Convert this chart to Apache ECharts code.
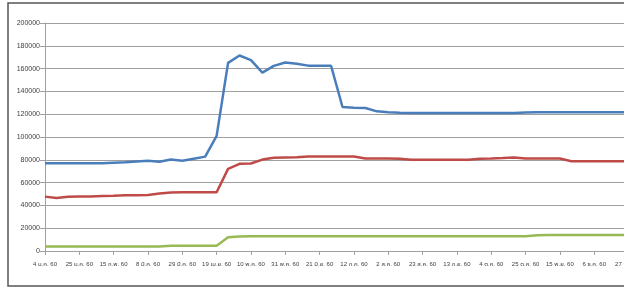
<!DOCTYPE html>
<html>
<head>
<meta charset="utf-8">
<script src="https://cdn.jsdelivr.net/npm/echarts@6/dist/echarts.min.js"></script>
<style>
  html, body { margin: 0; padding: 0; background: #fff; }
  #chart { width: 624px; height: 289px; }
</style>
</head>
<body>
<div id="chart"></div>
<script>
// weekly dates (Thai Buddhist year 2560)
const weeks = [
  '4 ม.ค. 60', '11 ม.ค. 60', '18 ม.ค. 60', '25 ม.ค. 60',
  '1 ก.พ. 60', '8 ก.พ. 60', '15 ก.พ. 60', '22 ก.พ. 60',
  '1 มี.ค. 60', '8 มี.ค. 60', '15 มี.ค. 60', '22 มี.ค. 60', '29 มี.ค. 60',
  '5 เม.ย. 60', '12 เม.ย. 60', '19 เม.ย. 60', '26 เม.ย. 60',
  '3 พ.ค. 60', '10 พ.ค. 60', '17 พ.ค. 60', '24 พ.ค. 60', '31 พ.ค. 60',
  '7 มิ.ย. 60', '14 มิ.ย. 60', '21 มิ.ย. 60', '28 มิ.ย. 60',
  '5 ก.ค. 60', '12 ก.ค. 60', '19 ก.ค. 60', '26 ก.ค. 60',
  '2 ส.ค. 60', '9 ส.ค. 60', '16 ส.ค. 60', '23 ส.ค. 60', '30 ส.ค. 60',
  '6 ก.ย. 60', '13 ก.ย. 60', '20 ก.ย. 60', '27 ก.ย. 60',
  '4 ต.ค. 60', '11 ต.ค. 60', '18 ต.ค. 60', '25 ต.ค. 60',
  '1 พ.ย. 60', '8 พ.ย. 60', '15 พ.ย. 60', '22 พ.ย. 60', '29 พ.ย. 60',
  '6 ธ.ค. 60', '13 ธ.ค. 60', '20 ธ.ค. 60', '27 ธ.ค. 60',
  '3 ม.ค. 61'
];

const blueValues = [
  77000, 77000, 77000, 77000, 77000, 77000, 77500, 77800, 78500, 79200,
  78300, 80200, 79200, 81000, 82800, 101000, 165000, 171500, 167500, 156500,
  162400, 165300, 164300, 162600, 162500, 162500, 126300, 125700, 125400, 122500,
  121700, 121200, 121000, 121000, 121000, 121000, 121000, 121000, 121000, 121000,
  121000, 121000, 121500, 121800, 121800, 121800, 121800, 121800, 121800, 121800,
  121800, 121800, 121800
];

const redValues = [
  47700, 46500, 47500, 47800, 47800, 48200, 48500, 49000, 49000, 49200,
  50500, 51300, 51500, 51500, 51500, 51500, 72000, 76500, 76800, 80200,
  81800, 82000, 82200, 82800, 83000, 83000, 83000, 82800, 81200, 81200,
  81200, 81000, 80000, 80000, 80000, 80000, 80000, 80000, 81000, 81200,
  81500, 82000, 81200, 81200, 81200, 81200, 78800, 78800, 78800, 78800,
  78800, 78800, 78800
];

const greenValues = [
  3900, 3900, 3900, 3900, 3900, 3900, 3900, 3900, 3900, 3900,
  3900, 4500, 4500, 4500, 4500, 4500, 12000, 12800, 13000, 13000,
  13000, 13000, 13000, 13000, 13000, 13000, 13000, 13000, 13000, 13000,
  13000, 13000, 13000, 13000, 13000, 13000, 13000, 13000, 13000, 13000,
  13000, 13000, 13000, 13900, 14000, 14000, 14000, 14000, 14000, 14000,
  14000, 14000, 14000
];

const font = "'Liberation Sans Narrow', 'Liberation Sans', 'Noto Sans Thai', 'Noto Sans', sans-serif";
const chart = echarts.init(document.getElementById('chart'), null, { renderer: 'canvas' });

function line(values, color) {
  return {
    type: 'line',
    data: values,
    showSymbol: false,
    smooth: false,
    lineStyle: { color: color, width: 2.5 },
    itemStyle: { color: color },
    animation: false
  };
}

const option = {
  animation: false,
  grid: {
    left: 45, top: 23, width: 595, height: 228,
    containLabel: false,
    outerBoundsMode: 'none'
  },
  xAxis: {
    type: 'category',
    boundaryGap: false,
    data: weeks,
    axisLine: { lineStyle: { color: '#a0a0a0', width: 1 } },
    axisTick: { interval: 2, length: 4, lineStyle: { color: '#a0a0a0' } },
    axisLabel: {
      interval: 2, fontSize: 6, color: '#404040', fontFamily: font, margin: 10,
      hideOverlap: false
    },
    splitLine: { show: false }
  },
  yAxis: {
    type: 'value',
    min: 0,
    max: 200000,
    interval: 20000,
    axisLine: { show: true, lineStyle: { color: '#a0a0a0', width: 1 } },
    axisTick: { show: true, length: 5, lineStyle: { color: '#a0a0a0' } },
    axisLabel: {
      fontSize: 7, color: '#404040', fontFamily: "'Liberation Sans', sans-serif", margin: 5,
      formatter: function (v) { return String(v); }
    },
    splitLine: { lineStyle: { color: '#a0a0a0', width: 1 } }
  },
  series: [
    line(blueValues, '#4a7ebb'),
    line(redValues, '#be4b48'),
    line(greenValues, '#98b954')
  ],
  graphic: [{
    type: 'rect',
    shape: { x: 8, y: 3, width: 700, height: 283 },
    style: { fill: null, stroke: '#555', lineWidth: 1.5 },
    silent: true
  }]
};

chart.setOption(option);
</script>
</body>
</html>
